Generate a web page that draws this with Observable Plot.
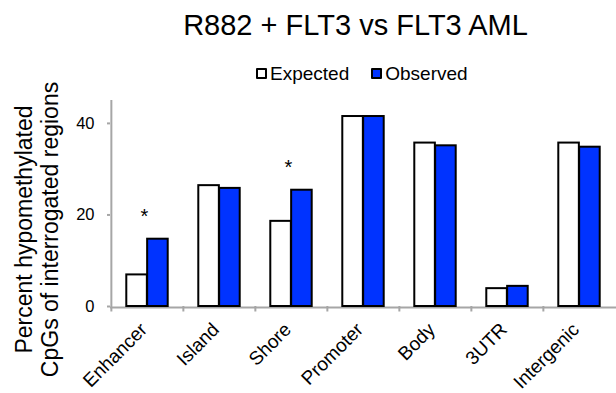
<!DOCTYPE html>
<html>
<head>
<meta charset="utf-8">
<script src="https://cdn.jsdelivr.net/npm/d3@7"></script>
<script src="https://cdn.jsdelivr.net/npm/@observablehq/plot@0.6"></script>
<style>
  html, body { margin: 0; padding: 0; background: #fff; }
  #wrap { position: relative; width: 616px; height: 393px; overflow: hidden; font-family: "Liberation Sans", Arial, sans-serif; color: #000; }
  #title { position: absolute; left: 0; top: 11px; width: 711px; text-align: center; font-size: 29px; line-height: 29px; white-space: nowrap; }
  #legend { position: absolute; left: 256px; top: 64px; display: flex; align-items: center; font-size: 19px; line-height: 19px; white-space: nowrap; }
  .sw { width: 7px; height: 7px; border: 2px solid #000; border-radius: 1px; margin-right: 3px; }
  #chart { position: absolute; left: 0; top: 85px; }
</style>
</head>
<body>
<div id="wrap">
  <div id="title"></div>
  <div id="legend"></div>
  <div id="chart"></div>
</div>
<script>
const title = "R882 + FLT3 vs FLT3 AML";
const categories = ["Enhancer", "Island", "Shore", "Promoter", "Body", "3UTR", "Intergenic"];
const expected = [6.9, 26.4, 18.6, 41.5, 35.7, 3.9, 35.7];
const observed = [14.7, 25.8, 25.4, 41.5, 35.1, 4.4, 34.8];
const significant = ["Enhancer", "Shore"];
const seriesNames = ["Expected", "Observed"];
const seriesColors = ["#ffffff", "#0033ff"];
const yTicks = [0, 20, 40];
const yLabel = "Percent hypomethylated\nCpGs of interrogated regions";

document.getElementById("title").textContent = title;
const legend = document.getElementById("legend");
seriesNames.forEach((name, i) => {
  const sw = document.createElement("span");
  sw.className = "sw";
  sw.style.background = seriesColors[i];
  const t = document.createElement("span");
  t.textContent = name;
  if (i === 0) t.style.marginRight = "22px";
  legend.appendChild(sw);
  legend.appendChild(t);
});

const rows = [];
categories.forEach((c, i) => {
  rows.push({category: c, series: "Expected", value: expected[i]});
  rows.push({category: c, series: "Observed", value: observed[i]});
});
const stars = significant.map(c => {
  const i = categories.indexOf(c);
  return {category: c, value: Math.max(expected[i], observed[i])};
});

const W = 616, H = 308, ML = 110, MR = 0;
const half = (W - ML - MR) / categories.length / 2;
const barW = 20.85;

const chart = Plot.plot({
  width: W,
  height: H,
  marginLeft: ML,
  marginRight: MR,
  marginTop: 15,
  marginBottom: 87,
  style: {fontFamily: "'Liberation Sans', Arial, sans-serif", overflow: "visible", background: "transparent", color: "#000"},
  x: {type: "band", domain: categories, padding: 0, axis: null},
  y: {domain: [0, 45]},
  marks: [
    Plot.ruleY([0], {dy: 1, stroke: "#a6a6a6", strokeWidth: 2}),
    Plot.ruleX([categories[0]], {x: d => d, y1: 0, y2: 45, dx: -half, stroke: "#a6a6a6", strokeWidth: 2}),
    Plot.ruleX(categories, {x: d => d, y1: 0, y2: -1.2, dx: -half, stroke: "#a6a6a6", strokeWidth: 2}),
    Plot.axisY({ticks: yTicks, tickSize: 3, tickPadding: 13, fontSize: 16.5, stroke: "#a6a6a6", strokeWidth: 2, fill: "#000", label: null}),
    Plot.barY(rows.filter(d => d.series === "Expected"), {x: "category", y: "value", fill: seriesColors[0], stroke: "#000", strokeWidth: 2, insetLeft: half - barW, insetRight: half}),
    Plot.barY(rows.filter(d => d.series === "Observed"), {x: "category", y: "value", fill: seriesColors[1], stroke: "#000", strokeWidth: 2, insetLeft: half, insetRight: half - barW}),
    Plot.text(stars, {x: "category", y: "value", text: () => "*", fontSize: 20, dx: -3, dy: -23}),
    Plot.text(categories, {x: d => d, y: () => 0, text: d => d, rotate: -45, textAnchor: "end", fontSize: 19, dx: -3.5, dy: 20}),
    Plot.text([yLabel], {frameAnchor: "left", text: d => d, rotate: -90, textAnchor: "middle", fontSize: 23, lineHeight: 1.12, dx: -73.5, dy: 26})
  ]
});
document.getElementById("chart").appendChild(chart);
</script>
</body>
</html>
